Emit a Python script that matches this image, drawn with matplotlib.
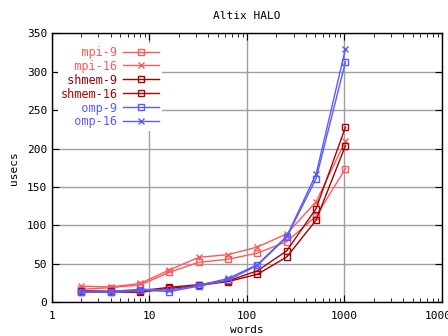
import matplotlib
matplotlib.use('Agg')
import matplotlib.pyplot as plt
import numpy as np

words = [2, 4, 8, 16, 32, 64, 128, 256, 512, 1024]
mpi9 = [17, 19, 22.5, 39, 52, 56, 64, 79, 112, 174]
mpi16 = [21, 20, 24.5, 42, 58.5, 62, 72, 89, 131, 210]
shmem9 = [14, 13.5, 13, 18, 22, 27, 36.5, 59, 107, 204]
shmem16 = [15, 14.5, 15, 19.5, 23, 28, 41, 67, 122, 228]
omp9 = [13, 13, 16, 14, 21, 29, 48, 85, 161, 313]
omp16 = [14, 14, 17, 16, 22, 31, 49, 86, 167, 330]

series = [('mpi-9', mpi9, '#ff5a5a', 's'),
          ('mpi-16', mpi16, '#ff5a5a', 'x'),
          ('shmem-9', shmem9, '#a00000', 's'),
          ('shmem-16', shmem16, '#b00000', 's'),
          ('omp-9', omp9, '#5a5aff', 's'),
          ('omp-16', omp16, '#5a5aff', 'x')]

plt.rcParams['font.family'] = 'DejaVu Sans Mono'
plt.rcParams['font.size'] = 8

fig = plt.figure(figsize=(4.48, 3.36), dpi=100)
ax = fig.add_axes([0.116, 0.1003, 0.8706, 0.8006])

# monospace font, so padding the labels right-aligns them like gnuplot
width = max(len(s[0]) for s in series)
for name, vals, col, mk in series:
    ax.plot(words, vals, color=col, marker=mk, markersize=5,
            markerfacecolor='none', markeredgecolor=col, linewidth=1,
            markeredgewidth=1, label=name.rjust(width))

ax.set_xscale('log')
ax.set_xlim(1, 10000)
ax.set_ylim(0, 350)
ax.set_yticks(np.arange(0, 351, 50))
ax.set_xticks([1, 10, 100, 1000, 10000])
ax.set_xticklabels(['1', '10', '100', '1000', '10000'])
ax.grid(True, which='major', color='#a0a0a0', linewidth=1)
ax.set_axisbelow(True)
ax.tick_params(which='both', direction='in', top=True, right=True)
ax.tick_params(which='major', length=5)
ax.tick_params(which='minor', length=3)
ax.tick_params(axis='x', pad=6)
for sp in ax.spines.values():
    sp.set_linewidth(1)

ax.set_title('Altix HALO', fontsize=8, pad=10)
ax.set_xlabel('words', labelpad=3)
ax.set_ylabel('usecs', labelpad=6)

leg = ax.legend(loc='upper left', markerfirst=False, frameon=True,
                facecolor='white', edgecolor='none', framealpha=1,
                fancybox=False, handlelength=3.0, borderpad=0.2,
                labelspacing=0.08, handletextpad=0.5, fontsize=8.6,
                bbox_to_anchor=(0.0, 0.985))
for txt, (name, vals, col, mk) in zip(leg.get_texts(), series):
    txt.set_color(col)

fig.savefig('out.png', dpi=100)
